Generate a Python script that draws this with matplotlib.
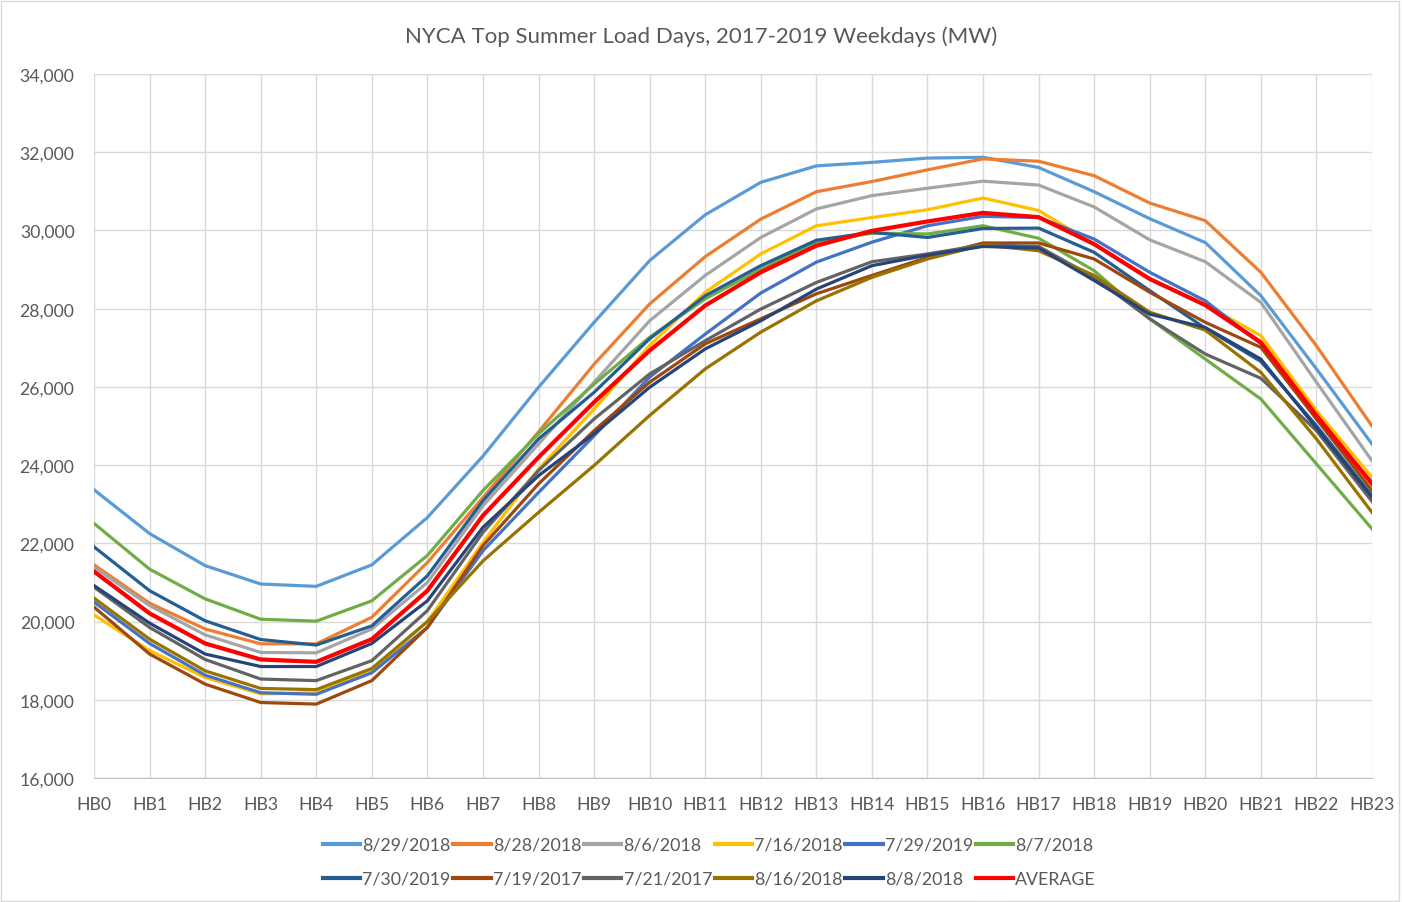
import matplotlib
matplotlib.use("Agg")
import matplotlib.pyplot as plt
from matplotlib.patches import Rectangle

hours = ["HB%d" % i for i in range(24)]

s_0829_2018 = [23370, 22250, 21430, 20960, 20900, 21450, 22660, 24230, 25990, 27650, 29230, 30400,
               31230, 31650, 31740, 31850, 31870, 31610, 30990, 30300, 29690, 28330, 26460, 24540]
s_0828_2018 = [21450, 20470, 19810, 19430, 19430, 20110, 21510, 23170, 24850, 26580, 28120, 29330,
               30290, 30990, 31250, 31550, 31830, 31770, 31400, 30700, 30250, 28930, 27050, 25000]
s_0806_2018 = [21390, 20410, 19660, 19210, 19200, 19810, 21000, 22960, 24540, 26120, 27690, 28850,
               29820, 30550, 30890, 31080, 31260, 31160, 30600, 29760, 29200, 28160, 26120, 24110]
s_0716_2018 = [20170, 19260, 18570, 18150, 18180, 18740, 20000, 22020, 23900, 25430, 27060, 28420,
               29400, 30120, 30330, 30530, 30830, 30510, 29650, 28760, 28100, 27310, 25390, 23690]
s_0729_2019 = [20500, 19440, 18630, 18180, 18140, 18690, 19850, 21810, 23300, 24750, 26250, 27350,
               28400, 29190, 29700, 30120, 30360, 30330, 29780, 28930, 28200, 27100, 25180, 23560]
s_0807_2018 = [22510, 21340, 20580, 20060, 20010, 20530, 21690, 23350, 24800, 26070, 27270, 28250,
               29010, 29700, 29930, 29910, 30120, 29800, 28970, 27740, 26710, 25690, 24030, 22370]
s_0730_2019 = [21910, 20790, 20020, 19540, 19400, 19890, 21170, 23090, 24670, 25860, 27230, 28330,
               29100, 29750, 29950, 29820, 30050, 30060, 29440, 28460, 27500, 26650, 25010, 23220]
s_0719_2017 = [20370, 19170, 18400, 17930, 17890, 18490, 19850, 21940, 23520, 24880, 26120, 27100,
               27740, 28380, 28850, 29310, 29680, 29680, 29270, 28420, 27650, 27010, 25180, 23350]
s_0721_2017 = [20880, 19850, 19030, 18530, 18490, 19000, 20280, 22280, 23860, 25180, 26330, 27180,
               27990, 28670, 29200, 29400, 29630, 29590, 28800, 27740, 26840, 26220, 24880, 23070]
s_0816_2018 = [20600, 19550, 18740, 18290, 18260, 18800, 20000, 21550, 22790, 23990, 25270, 26460,
               27400, 28200, 28800, 29270, 29630, 29480, 28850, 27910, 27450, 26370, 24670, 22790]
s_0808_2018 = [20920, 19960, 19170, 18850, 18850, 19440, 20530, 22410, 23730, 24800, 25990, 26970,
               27690, 28500, 29100, 29370, 29590, 29550, 28720, 27860, 27520, 26710, 24950, 23180]
s_average = [21280, 20210, 19440, 19030, 18970, 19550, 20790, 22710, 24200, 25610, 26930, 28080,
             28930, 29610, 29990, 30230, 30450, 30340, 29650, 28760, 28090, 27140, 25270, 23520]

labels = ["8/29/2018", "8/28/2018", "8/6/2018", "7/16/2018", "7/29/2019", "8/7/2018",
          "7/30/2019", "7/19/2017", "7/21/2017", "8/16/2018", "8/8/2018", "AVERAGE"]
series = [s_0829_2018, s_0828_2018, s_0806_2018, s_0716_2018, s_0729_2019, s_0807_2018,
          s_0730_2019, s_0719_2017, s_0721_2017, s_0816_2018, s_0808_2018, s_average]
colors = ["#5B9BD5", "#ED7D31", "#A5A5A5", "#FFC000", "#4472C4", "#70AD47",
          "#255E91", "#9E480E", "#636363", "#997300", "#264478", "#FF0000"]
yticks = [16000, 18000, 20000, 22000, 24000, 26000, 28000, 30000, 32000, 34000]

plt.rcParams['font.family'] = ['Lato', 'DejaVu Sans']
text_color = "#595959"

fig = plt.figure(figsize=(14.02, 9.03), dpi=100)
ax = fig.add_axes([94/1402, 1-779/903, (1372-94)/1402, (779-75)/903])

x = list(range(len(hours)))
handles = []
for lab, vals, col in zip(labels, series, colors):
    lw = 3.0 if lab == "AVERAGE" else 2.3
    h, = ax.plot(x, vals, color=col, lw=lw, label=lab, solid_joinstyle='round', zorder=3)
    handles.append(h)
handles[-1].set_zorder(4)

ax.set_xlim(0, 23)
ax.set_ylim(16000, 34000)
ax.set_xticks(x)
ax.set_xticklabels(hours)
ax.set_yticks(yticks)
ax.set_yticklabels(["{:,}".format(v) for v in yticks])
ax.grid(True, color="#D9D9D9", lw=1.0, zorder=0)
for sp in ["top", "right", "left"]:
    ax.spines[sp].set_visible(False)
ax.spines["bottom"].set_color("#BFBFBF")
ax.tick_params(axis='both', length=0, labelsize=12.7, colors=text_color)
ax.tick_params(axis='x', pad=13)
ax.tick_params(axis='y', pad=14)

fig.text(0.5, 1-37/903, "NYCA Top Summer Load Days, 2017-2019 Weekdays (MW)",
         ha='center', va='center', fontsize=16, color=text_color)

order = []
for i in range(6):
    order += [i, i + 6]
leg = fig.legend([handles[i] for i in order], [labels[i] for i in order], ncol=6,
                 loc='upper center', bbox_to_anchor=(0.506, 1-822/903), frameon=False,
                 fontsize=12.8, handlelength=2.1, handletextpad=0.12, columnspacing=0.15,
                 labelspacing=1.0, labelcolor=text_color)
for lh in leg.get_lines():
    lh.set_linewidth(3.0)

fig.patches.append(Rectangle((0.001, 0.001), 0.997, 0.997, transform=fig.transFigure,
                             fill=False, edgecolor="#D9D9D9", lw=1.0))

fig.savefig("out.png", dpi=100)
